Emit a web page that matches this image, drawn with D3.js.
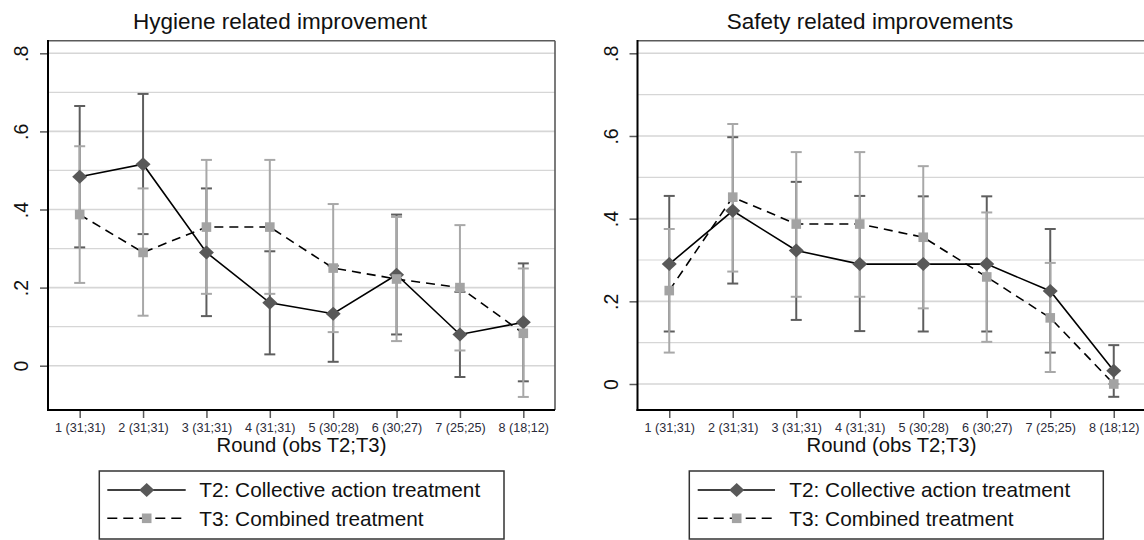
<!DOCTYPE html>
<html>
<head>
<meta charset="utf-8">
<script src="https://cdn.jsdelivr.net/npm/d3@7"></script>
<style>
  html, body { margin: 0; padding: 0; background: #fff; }
  svg { display: block; }
  text { font-family: "Liberation Sans", Arial, sans-serif; }
</style>
</head>
<body>
<svg id="chart" width="1144" height="540"></svg>
<script>
// ---------------- DATA ----------------
const rounds = ["1 (31;31)", "2 (31;31)", "3 (31;31)", "4 (31;31)", "5 (30;28)", "6 (30;27)", "7 (25;25)", "8 (18;12)"];
const roundNums = [1, 2, 3, 4, 5, 6, 7, 8];
const yTickVals = [0, 0.2, 0.4, 0.6, 0.8];
const yTickLabels = ["0", ".2", ".4", ".6", ".8"];
const yMinorVals = [0.1, 0.3, 0.5, 0.7];

const seriesNames = ["T2: Collective action treatment", "T3: Combined treatment"];

// Hygiene related improvement
const hygT2   = [0.484, 0.516, 0.290, 0.161, 0.133, 0.233, 0.080, 0.111];
const hygT2lo = [0.303, 0.337, 0.127, 0.029, 0.010, 0.080, -0.029, -0.040];
const hygT2hi = [0.665, 0.696, 0.454, 0.293, 0.256, 0.387, 0.189, 0.262];
const hygT3   = [0.387, 0.290, 0.355, 0.355, 0.250, 0.222, 0.200, 0.083];
const hygT3lo = [0.212, 0.128, 0.184, 0.184, 0.086, 0.063, 0.039, -0.080];
const hygT3hi = [0.562, 0.454, 0.527, 0.527, 0.414, 0.381, 0.360, 0.249];

// Safety related improvements
const safT2   = [0.290, 0.419, 0.323, 0.290, 0.290, 0.290, 0.225, 0.032];
const safT2lo = [0.127, 0.243, 0.155, 0.128, 0.127, 0.127, 0.076, -0.031];
const safT2hi = [0.455, 0.597, 0.489, 0.455, 0.454, 0.454, 0.375, 0.094];
const safT3   = [0.226, 0.452, 0.387, 0.387, 0.355, 0.259, 0.160, 0.000];
const safT3lo = [0.076, 0.272, 0.211, 0.211, 0.183, 0.102, 0.029, 0.000];
const safT3hi = [0.375, 0.629, 0.561, 0.561, 0.527, 0.415, 0.293, 0.000];

// ---------------- STYLE ----------------
const C = {
  t2Marker: "#585858", t3Marker: "#a3a3a3",
  t2CI: "#5e5e5e", t3CI: "#a8a8a8",
  grid: "#d6d6d6", axis: "#000", frame: "#5a5a5a", tickText: "#2a2a38"
};

const svg = d3.select("#chart");

function diamondPath(cx, cy) {
  const w = 7.5, h = 7;
  return `M${cx},${cy - h}L${cx + w},${cy}L${cx},${cy + h}L${cx - w},${cy}Z`;
}

function drawPanel(o) {
  const g = svg.append("g");
  const x = d3.scaleLinear().domain([0.5, 8.5]).range([o.left, o.right]);
  const y = d3.scaleLinear().domain([0, 0.8]).range([o.y0, o.y08]);

  // gridlines
  g.selectAll(".gmin").data(yMinorVals).join("line")
    .attr("x1", o.left).attr("x2", o.right)
    .attr("y1", d => y(d)).attr("y2", d => y(d))
    .attr("stroke", C.grid).attr("stroke-width", 1.2);
  g.selectAll(".gmaj").data(yTickVals).join("line")
    .attr("x1", o.left).attr("x2", o.right)
    .attr("y1", d => y(d)).attr("y2", d => y(d))
    .attr("stroke", C.grid).attr("stroke-width", 1.6);

  // frame (top/right)
  g.append("line").attr("x1", o.left).attr("x2", o.right).attr("y1", o.top).attr("y2", o.top)
    .attr("stroke", C.frame).attr("stroke-width", 1.6);
  g.append("line").attr("x1", o.right).attr("x2", o.right).attr("y1", o.top).attr("y2", o.bottom)
    .attr("stroke", C.frame).attr("stroke-width", 1.6);

  // CIs
  function drawCI(lo, hi, color) {
    const gg = g.append("g").attr("stroke", color).attr("stroke-width", 2).attr("fill", "none");
    roundNums.forEach((r, i) => {
      const cx = x(r);
      gg.append("line").attr("x1", cx).attr("x2", cx).attr("y1", y(lo[i])).attr("y2", y(hi[i]));
      gg.append("line").attr("x1", cx - 5.5).attr("x2", cx + 5.5).attr("y1", y(lo[i])).attr("y2", y(lo[i]));
      gg.append("line").attr("x1", cx - 5.5).attr("x2", cx + 5.5).attr("y1", y(hi[i])).attr("y2", y(hi[i]));
    });
  }
  drawCI(o.t2lo, o.t2hi, C.t2CI);
  drawCI(o.t3lo, o.t3hi, C.t3CI);

  const line = d3.line().x((d, i) => x(roundNums[i])).y(d => y(d));

  // T2 line + markers
  g.append("path").datum(o.t2).attr("d", line).attr("fill", "none")
    .attr("stroke", "#000").attr("stroke-width", 1.6);
  g.selectAll(".dia").data(o.t2).join("path")
    .attr("d", (d, i) => diamondPath(x(roundNums[i]), y(d)))
    .attr("fill", C.t2Marker);

  // T3 line + markers
  g.append("path").datum(o.t3).attr("d", line).attr("fill", "none")
    .attr("stroke", "#000").attr("stroke-width", 1.6).attr("stroke-dasharray", "9,6");
  g.selectAll(".sq").data(o.t3).join("rect")
    .attr("x", (d, i) => x(roundNums[i]) - 4.8).attr("y", d => y(d) - 4.8)
    .attr("width", 9.6).attr("height", 9.6).attr("fill", C.t3Marker);

  // axes
  const yAxis = d3.axisLeft(y).tickValues(yTickVals)
    .tickFormat((d, i) => yTickLabels[i]).tickSize(8).tickSizeOuter(0);
  const ya = g.append("g").attr("transform", `translate(${o.left},0)`).call(yAxis);
  ya.select(".domain").remove();
  ya.selectAll(".tick line").attr("stroke", C.frame).attr("stroke-width", 1.5);
  ya.selectAll(".tick text")
    .attr("x", null).attr("y", null).attr("dy", null)
    .attr("transform", "translate(-20,0) rotate(-90)")
    .attr("text-anchor", "middle")
    .attr("font-size", 19.5).attr("fill", "#111")
    .style("font-family", '"Liberation Sans", Arial, sans-serif');

  const xAxis = d3.axisBottom(x).tickValues(roundNums)
    .tickFormat(d => rounds[d - 1]).tickSize(8).tickSizeOuter(0);
  const xa = g.append("g").attr("transform", `translate(0,${o.bottom})`).call(xAxis);
  xa.select(".domain").remove();
  xa.selectAll(".tick line").attr("stroke", C.frame).attr("stroke-width", 1.5);
  xa.selectAll(".tick text").attr("y", 13).attr("dy", "0.71em")
    .attr("font-size", 12.6).attr("fill", C.tickText)
    .style("font-family", '"Liberation Sans", Arial, sans-serif');

  // axis lines (left, bottom)
  g.append("line").attr("x1", o.left).attr("x2", o.left).attr("y1", o.top - 0.8).attr("y2", o.bottom + 1)
    .attr("stroke", C.axis).attr("stroke-width", 2);
  g.append("line").attr("x1", o.left - 1).attr("x2", o.right).attr("y1", o.bottom).attr("y2", o.bottom)
    .attr("stroke", C.axis).attr("stroke-width", 2);

  // title
  g.append("text").attr("x", o.titleX).attr("y", 29.3).attr("text-anchor", "middle")
    .attr("font-size", 22.5).attr("fill", "#111").text(o.title);

  // x-axis title
  g.append("text").attr("x", (o.left + o.right) / 2).attr("y", 451.5).attr("text-anchor", "middle")
    .attr("font-size", 20.3).attr("fill", "#111").text("Round (obs T2;T3)");

  // legend
  const L = o.legend;
  g.append("rect").attr("x", L.x0).attr("y", 471).attr("width", L.x1 - L.x0).attr("height", 68)
    .attr("fill", "#fff").attr("stroke", "#333").attr("stroke-width", 1.5);
  const rows = [490, 518.3];
  // row 1
  g.append("line").attr("x1", L.s0).attr("x2", L.s1).attr("y1", rows[0]).attr("y2", rows[0])
    .attr("stroke", "#000").attr("stroke-width", 1.6);
  g.append("path").attr("d", diamondPath(L.sm, rows[0])).attr("fill", C.t2Marker);
  // row 2
  g.append("line").attr("x1", L.s0).attr("x2", L.s1).attr("y1", rows[1]).attr("y2", rows[1])
    .attr("stroke", "#000").attr("stroke-width", 1.6).attr("stroke-dasharray", "10,6");
  g.append("rect").attr("x", L.sm - 4.8).attr("y", rows[1] - 4.8).attr("width", 9.6).attr("height", 9.6)
    .attr("fill", C.t3Marker);
  seriesNames.forEach((s, i) => {
    g.append("text").attr("x", L.tx).attr("y", rows[i]).attr("dy", "0.36em")
      .attr("font-size", 20.8).attr("fill", "#111").text(s);
  });
}

drawPanel({
  title: "Hygiene related improvement", titleX: 280,
  left: 48, right: 555, top: 40.7, bottom: 410, y0: 365.7, y08: 53.3,
  t2: hygT2, t2lo: hygT2lo, t2hi: hygT2hi, t3: hygT3, t3lo: hygT3lo, t3hi: hygT3hi,
  legend: { x0: 99.3, x1: 504, s0: 107.3, s1: 185.7, sm: 146.7, tx: 199.3 }
});

drawPanel({
  title: "Safety related improvements", titleX: 870,
  left: 637.5, right: 1145.5, top: 40.7, bottom: 410, y0: 384, y08: 53.3,
  t2: safT2, t2lo: safT2lo, t2hi: safT2hi, t3: safT3, t3lo: safT3lo, t3hi: safT3hi,
  legend: { x0: 689.3, x1: 1103.3, s0: 697.7, s1: 775, sm: 736.7, tx: 789.3 }
});
</script>
</body>
</html>
